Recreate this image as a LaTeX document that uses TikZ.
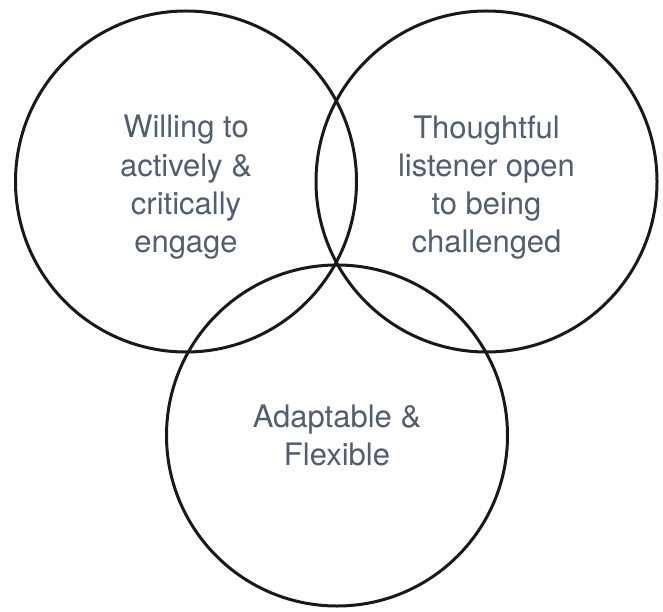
\documentclass[tikz,border=0pt]{standalone}
\usepackage{fontspec}
\setmainfont{TeX Gyre Heros}
\definecolor{txtgray}{RGB}{82,94,110}
\begin{document}
\begin{tikzpicture}[x=1pt,y=-1pt,
  venn/.style={circle, draw=black!90, line width=3pt, minimum size=341pt, inner sep=0pt},
  lbl/.style={align=center, text=txtgray, inner sep=0pt, font=\fontsize{31}{38.3}\selectfont}]
\useasboundingbox[fill=white] (0,0) rectangle (663,612);
\node[venn] (left) at (186,181.5) {};
\node[venn] (right) at (486.5,181.5) {};
\node[venn] (bottom) at (337,435.5) {};
\node[lbl] (ltxt) at ([yshift=-6pt]left.center) {Willing to\\actively \&\\critically\\engage};
\node[lbl] (rtxt) at ([yshift=-6pt]right.center) {Thoughtful\\listener open\\to being\\challenged};
\node[lbl] (btxt) at (bottom.center) {Adaptable \&\\Flexible};
\end{tikzpicture}
\end{document}
